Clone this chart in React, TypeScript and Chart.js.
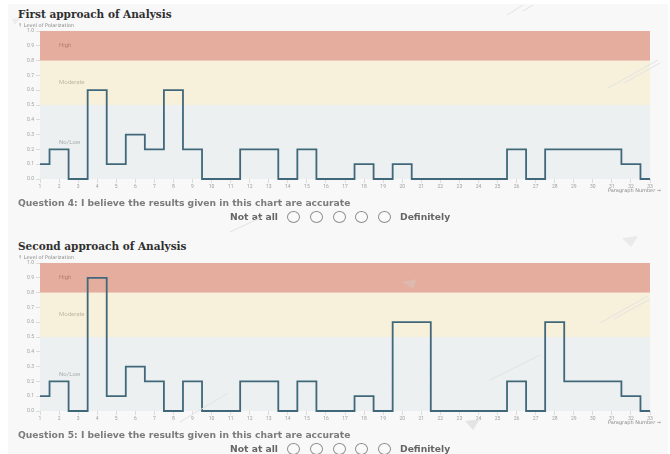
import React, { useEffect, useRef } from "react";
import { Chart, registerables } from "chart.js";

Chart.register(...registerables);

// ---- data ----
const paragraphLabels = [
  "1","2","3","4","5","6","7","8","9","10","11","12","13","14","15","16","17",
  "18","19","20","21","22","23","24","25","26","27","28","29","30","31","32","33",
];
const firstApproach = [
  0.1, 0.2, 0, 0.6, 0.1, 0.3, 0.2, 0.6, 0.2, 0, 0, 0.2, 0.2, 0, 0.2, 0, 0,
  0.1, 0, 0.1, 0, 0, 0, 0, 0, 0.2, 0, 0.2, 0.2, 0.2, 0.2, 0.1, 0,
];
const secondApproach = [
  0.1, 0.2, 0, 0.9, 0.1, 0.3, 0.2, 0, 0.2, 0, 0, 0.2, 0.2, 0, 0.2, 0, 0,
  0.1, 0, 0.6, 0.6, 0, 0, 0, 0, 0.2, 0, 0.6, 0.2, 0.2, 0.2, 0.1, 0,
];
const bandLabels = ["No/Low", "Moderate", "High"];
const bandLower = [0, 0.5, 0.8];
const bandUpper = [0.5, 0.8, 1.0];
const yAxisLabel = "↑ Level of Polarization";
const xAxisLabel = "Paragraph Number →";
const ratingLow = "Not at all";
const ratingHigh = "Definitely";
const ratingCount = 5;

// ---- styles ----
const bandColors = ["#ecf0f0", "#f7f0da", "#e5ad9d"];
const bandTextColors = ["#a6adaf", "#c2b9a0", "#b37f70"];
const LINE_COLOR = "#41687a";
const TICK_COLOR = "#a0a0a0";
const TICK_FONT = "Roboto";

const bandsPlugin = {
  id: "bands",
  beforeDatasetsDraw(chart: any) {
    const { ctx, chartArea, scales } = chart;
    const y = scales.y;
    ctx.save();
    bandLower.forEach((lo, i) => {
      const hi = bandUpper[i];
      const yt = y.getPixelForValue(hi);
      const yb = y.getPixelForValue(lo);
      ctx.fillStyle = bandColors[i];
      ctx.fillRect(chartArea.left, yt, chartArea.right - chartArea.left, yb - yt);
    });
    bandLower.forEach((lo, i) => {
      const hi = bandUpper[i];
      ctx.fillStyle = bandTextColors[i];
      ctx.font = `6px ${TICK_FONT}`;
      ctx.textBaseline = "middle";
      ctx.textAlign = "left";
      ctx.fillText(bandLabels[i], chartArea.left + 19, y.getPixelForValue((lo + hi) / 2));
    });
    ctx.restore();
  },
};

const axisTitlesPlugin = {
  id: "axisTitles",
  afterDraw(chart: any) {
    const { ctx, chartArea } = chart;
    ctx.save();
    ctx.fillStyle = "#8a8a8a";
    ctx.font = `5px 'DejaVu Sans'`;
    ctx.textBaseline = "middle";
    ctx.textAlign = "left";
    ctx.fillText(yAxisLabel, chartArea.left - 22, chartArea.top - 5);
    ctx.textAlign = "right";
    ctx.fillText(xAxisLabel, chartArea.right + 11, chartArea.bottom + 12);
    ctx.restore();
  },
};

function StepChart({ values, top }: { values: number[]; top: number }) {
  const ref = useRef<HTMLCanvasElement>(null);
  useEffect(() => {
    const chart = new Chart(ref.current as HTMLCanvasElement, {
      type: "line",
      data: {
        labels: paragraphLabels,
        datasets: [
          {
            data: values,
            stepped: "middle",
            borderColor: LINE_COLOR,
            borderWidth: 1.8,
            pointRadius: 0,
            fill: false,
            clip: 4,
          } as any,
        ],
      },
      options: {
        animation: false,
        responsive: false,
        maintainAspectRatio: false,
        layout: { padding: { left: 0, right: 20, top: 11, bottom: 0 } },
        plugins: { legend: { display: false }, tooltip: { enabled: false } },
        scales: {
          x: {
            type: "category",
            offset: false,
            border: { display: false },
            grid: { drawOnChartArea: false, tickLength: 4, tickColor: "#c9c9c9", tickWidth: 0.6 },
            ticks: {
              font: { size: 5, family: TICK_FONT },
              color: TICK_COLOR,
              padding: 1,
              autoSkip: false,
              maxRotation: 0,
            },
            afterFit: (s: any) => {
              s.height = 21;
            },
          },
          y: {
            min: 0,
            max: 1,
            border: { display: false },
            grid: { drawOnChartArea: false, tickLength: 4, tickColor: "#c9c9c9", tickWidth: 0.6 },
            ticks: {
              stepSize: 0.1,
              font: { size: 5, family: TICK_FONT },
              color: TICK_COLOR,
              padding: 2,
              callback: (v: any) => Number(v).toFixed(1),
            },
            afterFit: (s: any) => {
              s.width = 40;
            },
          },
        },
      } as any,
      plugins: [bandsPlugin, axisTitlesPlugin],
    });
    return () => chart.destroy();
  }, [values]);
  return (
    <canvas
      ref={ref}
      width={670}
      height={180}
      style={{ position: "absolute", left: 0, top, width: 670, height: 180 }}
    />
  );
}

const titleStyle: React.CSSProperties = {
  position: "absolute",
  left: 18,
  fontFamily: "'DejaVu Serif', serif",
  fontWeight: 700,
  fontSize: 10.5,
  lineHeight: 1,
  color: "#2f2f2f",
  whiteSpace: "nowrap",
};
const questionStyle: React.CSSProperties = {
  position: "absolute",
  left: 18,
  fontFamily: "'DejaVu Sans', sans-serif",
  fontWeight: 700,
  fontSize: 9.2,
  lineHeight: 1,
  color: "#7b7b7b",
  whiteSpace: "nowrap",
};

function Section({ offset, title, question, values }: { offset: number; title: string; question: string; values: number[] }) {
  const circleCenters = [293, 316, 339, 361, 384].slice(0, ratingCount);
  return (
    <>
      <div style={{ ...titleStyle, top: 9 + offset }}>{title}</div>
      <StepChart values={values} top={20 + offset} />
      <div style={{ ...questionStyle, top: 197.5 + offset }}>{question}</div>
      <div
        style={{
          ...questionStyle,
          left: undefined,
          right: 670 - 278,
          top: 212 + offset,
          color: "#666",
        }}
      >
        {ratingLow}
      </div>
      {circleCenters.map((cx, i) => (
        <div
          key={i}
          style={{
            position: "absolute",
            left: cx - 6.5,
            top: 211 + offset,
            width: 11,
            height: 10,
            border: "1px solid #8d8d8d",
            borderRadius: "50%",
            background: "#fafafa",
          }}
        />
      ))}
      <div style={{ ...questionStyle, left: 400, top: 212 + offset, color: "#666" }}>{ratingHigh}</div>
    </>
  );
}

function Decorations() {
  const stroke = "#e2e2e2";
  return (
    <svg
      width={670}
      height={454}
      style={{ position: "absolute", left: 0, top: 0, pointerEvents: "none" }}
    >
      <polygon points="12,19 20,18 15,25" fill="#ececec" />
      <polygon points="622,238 638,236 631,247" fill="#e6e6e6" opacity={0.8} />
      <polygon points="402,282 417,279 413,289" fill="#d8c8c0" opacity={0.5} />
      <polygon points="465,421 480,419 473,430" fill="#e4e4e4" />
      <line x1={507} y1={15} x2={523} y2={5} stroke={stroke} strokeWidth={1} />
      <line x1={523} y1={11} x2={533} y2={5} stroke={stroke} strokeWidth={1} />
      <line x1={608} y1={88} x2={658} y2={60} stroke={stroke} strokeWidth={1} />
      <line x1={624} y1={83} x2={660} y2={63} stroke={stroke} strokeWidth={1} />
      <line x1={600} y1={323} x2={648} y2={296} stroke={stroke} strokeWidth={1} />
      <line x1={614} y1={319} x2={650} y2={299} stroke={stroke} strokeWidth={1} />
      <line x1={230} y1={232} x2={260} y2={218} stroke={stroke} strokeWidth={1} />
      <line x1={490} y1={380} x2={540} y2={355} stroke={stroke} strokeWidth={1} />
      <line x1={180} y1={422} x2={228} y2={393} stroke={stroke} strokeWidth={1} />
    </svg>
  );
}

export default function App() {
  return (
    <div
      style={{
        position: "fixed",
        left: 0,
        top: 0,
        width: 670,
        height: 454,
        background: "#ffffff",
        overflow: "hidden",
      }}
    >
      <div
        style={{
          position: "absolute",
          left: 8,
          top: 4,
          width: 660,
          height: 450,
          background: "#f8f8f8",
        }}
      />
      <Section
        offset={0}
        title="First approach of Analysis"
        question="Question 4: I believe the results given in this chart are accurate"
        values={firstApproach}
      />
      <Section
        offset={232}
        title="Second approach of Analysis"
        question="Question 5: I believe the results given in this chart are accurate"
        values={secondApproach}
      />
      <Decorations />
    </div>
  );
}
